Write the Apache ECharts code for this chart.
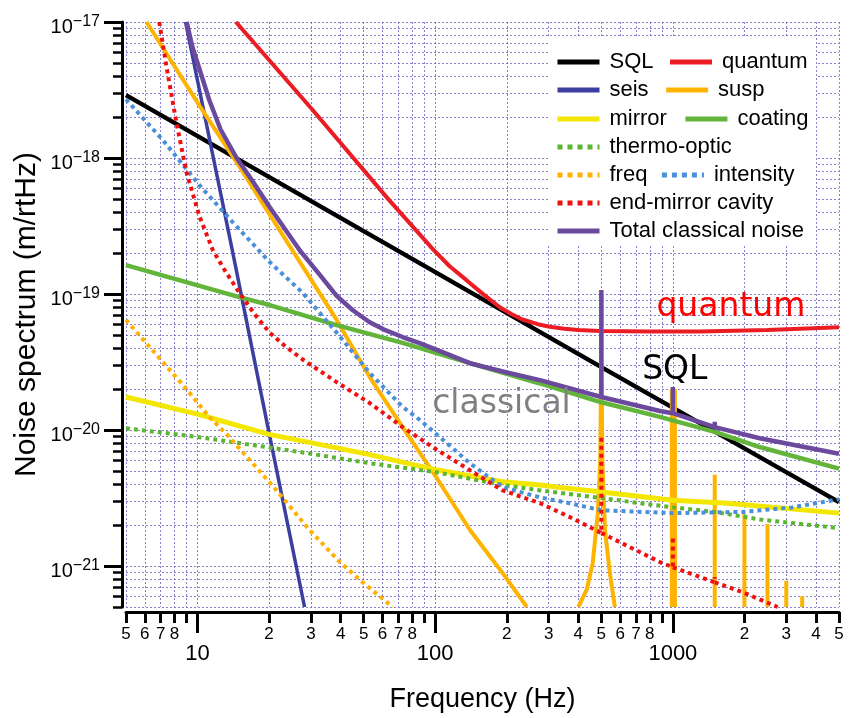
<!DOCTYPE html>
<html><head><meta charset="utf-8">
<script src="https://cdn.jsdelivr.net/npm/echarts@6/dist/echarts.min.js"></script>
<style>html,body{margin:0;padding:0;background:#fff}#c{width:849px;height:718px}</style>
</head><body><div id="c"></div>
<script>
// ---- axis tick values ----
const xTickValues = [5,6,7,8,9,10,20,30,40,50,60,70,80,90,100,200,300,400,500,600,700,800,900,1000,2000,3000,4000,5000];
const xMinorLabelValues = [5,6,7,8,20,30,40,50,60,70,80,200,300,400,500,600,700,800,2000,3000,4000,5000];
const xMajorValues = [10,100,1000];
const yTickValues = [5e-22,6e-22,7e-22,8e-22,9e-22,
  1e-21,2e-21,3e-21,4e-21,5e-21,6e-21,7e-21,8e-21,9e-21,
  1e-20,2e-20,3e-20,4e-20,5e-20,6e-20,7e-20,8e-20,9e-20,
  1e-19,2e-19,3e-19,4e-19,5e-19,6e-19,7e-19,8e-19,9e-19,
  1e-18,2e-18,3e-18,4e-18,5e-18,6e-18,7e-18,8e-18,9e-18,1e-17];
const yMajorValues = [1e-21,1e-20,1e-19,1e-18,1e-17];

// ---- series data: [frequency Hz, noise m/rtHz]; null = gap ----
const sqlData = [[5,2.9e-18],[50,2.9e-19],[500,2.9e-20],[5000,2.95e-21]];
const quantumData = [[14.5,1e-17],[30,2.33e-18],[64,4.9e-19],[97.5,2.15e-19],[115,1.6e-19],[135,1.27e-19],[160,9.9e-20],[187,8.0e-20],[210,7.1e-20],[233,6.5e-20],[270,6.0e-20],[303,5.75e-20],[350,5.55e-20],[400,5.45e-20],[493,5.35e-20],[800,5.3e-20],[1300,5.3e-20],[2500,5.43e-20],[5000,5.7e-20]];
const seisData = [[8.9,1e-17],[14,2.1e-19],[20,9.5e-21],[28.2,5e-22]];
const suspData = [[6.1,1e-17],[10.2,2.42e-18],[14.6,9.3e-19],[20.1,3.85e-19],[38.5,6.45e-20],[53,2.45e-20],[72.9,1.05e-20],[101,4.5e-21],[140,1.84e-21],[192,8.9e-22],[243,5e-22],null,
  [400,5e-22],[434,6.7e-22],[460,1.05e-21],[483,2.45e-21],[495,6e-21],[499,3e-20],[500,1.0e-19],[501,3e-20],[505,6e-21],[518,1.84e-21],[543,8.9e-22],[570,5e-22],null,
  [990,5e-22],[990,2.0e-20],null,[1020,5e-22],[1020,2.0e-20],null,
  [1500,5e-22],[1500,4.7e-21],null,[2000,5e-22],[2000,2.4e-21],null,
  [2500,5e-22],[2500,2.04e-21],null,[3000,5e-22],[3000,7.8e-22],null,[3500,5e-22],[3500,6.0e-22]];
const mirrorData = [[5,1.75e-20],[10,1.31e-20],[20,9.3e-21],[38.5,7.4e-21],[53,6.6e-21],[101,5.1e-21],[192,4.17e-21],[276,3.95e-21],[367,3.72e-21],[500,3.5e-21],[1000,3.05e-21],[1700,2.9e-21],[5000,2.45e-21]];
const coatingData = [[5,1.63e-19],[15,9.5e-20],[20.1,8.3e-20],[38.5,5.9e-20],[72.9,4.37e-20],[140,3.1e-20],[276,2.2e-20],[500,1.6e-20],[882,1.25e-20],[1500,9.7e-21],[2320,7.5e-21],[5000,5.2e-21]];
const thermoOpticData = [[5,1.03e-20],[10,8.9e-21],[26.9,6.9e-21],[53,5.7e-21],[101,4.9e-21],[192,3.95e-21],[276,3.6e-21],[500,3.16e-21],[1000,2.7e-21],[1500,2.5e-21],[2320,2.2e-21],[5000,1.9e-21]];
const freqData = [[5,6.45e-20],[8.57,2.2e-20],[11.2,1.25e-20],[13.6,8.9e-21],[21.5,3.6e-21],[29.6,1.84e-21],[39.7,1.07e-21],[49.5,7.6e-22],[66.2,5e-22]];
const intensityData = [[5,2.7e-18],[7.13,1.36e-18],[10.2,6.3e-19],[14,3.4e-19],[20.1,1.72e-19],[27.7,1.02e-19],[38.5,5.2e-20],[53,2.63e-20],[72.9,1.48e-20],[86,1.19e-20],[112,8.0e-21],[140,5.7e-21],[192,3.8e-21],[276,3.2e-21],[367,2.9e-21],[500,2.57e-21],[1000,2.45e-21],[1975,2.5e-21],[3170,2.7e-21],[5000,3.1e-21]];
const endMirrorData = [[6.9,1e-17],[7.4,4.7e-18],[8.16,1.8e-18],[8.99,7.8e-19],[10.2,3.7e-19],[11.6,2.1e-19],[13,1.5e-19],[15,1.02e-19],[17.5,7.0e-20],[20.1,5.2e-20],[23.5,4.1e-20],[27.7,3.3e-20],[38.5,2.25e-20],[53,1.58e-20],[72.9,1.05e-20],[101,7.2e-21],[192,3.6e-21],[276,2.9e-21],[367,2.3e-21],[500,1.75e-21],[500,8.9e-21],null,
  [500,1.75e-21],[705,1.3e-21],[882,1.07e-21],[1000,9.8e-22],[1000,1.7e-21],null,
  [1000,9.8e-22],[1500,7.6e-22],[1500,8.3e-22],null,[1500,7.6e-22],[1975,6.4e-22],[2760,5e-22]];
const totalData = [[9.0,1e-17],[9.5,6.6e-18],[10,5e-18],[11.2,2.67e-18],[12.5,1.62e-18],[14.6,1e-18],[17,6.8e-19],[20.1,4.36e-19],[26.9,2.1e-19],[32,1.45e-19],[38.5,9.7e-20],[45,7.6e-20],[53,6.2e-20],[62,5.4e-20],[72.9,4.83e-20],[86,4.35e-20],[101,3.9e-20],[140,3.1e-20],[200,2.65e-20],[276,2.33e-20],[500,1.75e-20],[500,1.07e-19],[500,1.75e-20],
  [882,1.38e-20],[1000,1.33e-20],[1000,2.07e-20],[1000,1.33e-20],[1500,1.05e-20],[1500,1.15e-20],[1500,1.05e-20],[2320,8.7e-21],[5000,6.7e-21]];

const gridColor = 'rgba(95,85,185,0.75)';
const FONT = 'Liberation Sans';
const gap = d => d.map(p => p === null ? ['-','-'] : p);

function lineSeries(name, data, color, width, type, extra) {
  return Object.assign({
    name, type: 'line', data: gap(data), symbol: 'none', showSymbol: false,
    connectNulls: false, silent: true, clip: true,
    lineStyle: { color, width, type: type || 'solid', cap: 'butt' },
    itemStyle: { color }
  }, extra || {});
}
function note(text, coord, color) {
  return { symbol: 'circle', symbolSize: 1, silent: true, itemStyle: { color: 'rgba(0,0,0,0)' },
    label: { show: true, position: 'inside', formatter: text, color, fontSize: 33, fontFamily: 'DejaVu Sans' },
    data: [{ coord }] };
}
const legendRows = [
  { names: ['SQL','quantum'], y: 62, gap: 14 },
  { names: ['seis','susp'], y: 90, gap: 15 },
  { names: ['mirror','coating'], y: 119, gap: 16 },
  { names: ['thermo-optic'], y: 147, gap: 10 },
  { names: ['freq','intensity'], y: 175, gap: 12 },
  { names: ['end-mirror cavity'], y: 203, gap: 10 },
  { names: ['Total classical noise'], y: 231, gap: 10 }
];

const option = {
  animation: false,
  backgroundColor: '#fff',
  grid: { left: 126, right: 10, top: 22, bottom: 111, outerBoundsMode: 'none' },
  graphic: [{ type: 'rect', left: 548, top: 38, z: 1, silent: true,
    shape: { width: 268, height: 206 }, style: { fill: '#fff' } }],
  legend: legendRows.map(r => ({
    data: r.names, left: 555, top: r.y - 11, padding: 0, itemGap: r.gap,
    itemWidth: 42, itemHeight: 22, selectedMode: false, orient: 'horizontal',
    itemStyle: { opacity: 0 },
    lineStyle: { width: 5 },
    textStyle: { fontSize: 22, fontFamily: FONT, color: '#000', padding: [0,0,0,5] }
  })),
  xAxis: [
    { type: 'log', logBase: 10, min: 5, max: 5000, position: 'bottom', offset: 5,
      name: 'Frequency (Hz)', nameLocation: 'middle', nameGap: 74,
      nameTextStyle: { fontSize: 27, fontFamily: FONT, color: '#000' },
      axisLine: { show: true, lineStyle: { color: '#000', width: 3 } },
      axisTick: { show: true, customValues: xTickValues, length: 11, lineStyle: { color: '#000', width: 3 } },
      axisLabel: { show: true, customValues: xMinorLabelValues, fontSize: 17, margin: 14, color: '#000', fontFamily: FONT,
        formatter: v => String(Math.round(v / Math.pow(10, Math.floor(Math.log10(v) + 1e-9)))) },
      splitLine: { show: true, lineStyle: { color: gridColor, width: 1, type: [2,2] } },
      minorTick: { show: false }, minorSplitLine: { show: false } },
    { type: 'log', logBase: 10, min: 5, max: 5000, position: 'bottom', offset: 5,
      axisLine: { show: false },
      axisTick: { show: true, customValues: xMajorValues, length: 21, lineStyle: { color: '#000', width: 3 } },
      axisLabel: { show: true, customValues: xMajorValues, fontSize: 22, margin: 31, color: '#000', fontFamily: FONT,
        formatter: v => String(Math.round(v)) },
      splitLine: { show: false } }
  ],
  yAxis: [
    { type: 'log', logBase: 10, min: 5e-22, max: 1e-17, position: 'left', offset: 4,
      name: 'Noise spectrum (m/rtHz)', nameLocation: 'middle', nameGap: 80,
      nameTextStyle: { fontSize: 30, fontFamily: FONT, color: '#000' },
      axisLine: { show: true, lineStyle: { color: '#000', width: 3 } },
      axisTick: { show: true, customValues: yTickValues, length: 9, lineStyle: { color: '#000', width: 2.5 } },
      axisLabel: { show: false },
      splitLine: { show: true, lineStyle: { color: gridColor, width: 1, type: [2,2] } },
      minorTick: { show: false }, minorSplitLine: { show: false } },
    { type: 'log', logBase: 10, min: 5e-22, max: 1e-17, position: 'left', offset: 4,
      axisLine: { show: false },
      axisTick: { show: true, customValues: yMajorValues, length: 18, lineStyle: { color: '#000', width: 3 } },
      axisLabel: { show: true, customValues: yMajorValues, margin: 22, padding: [7,0,0,0], color: '#000',
        formatter: v => { const e = Math.round(Math.log10(v)); return '{a|10}{b|' + (e < 0 ? '\u2212' : '') + Math.abs(e) + '}'; },
        rich: { a: { fontSize: 20, lineHeight: 24, verticalAlign: 'bottom', fontFamily: FONT, color: '#000' },
                b: { fontSize: 16, lineHeight: 12, verticalAlign: 'top', fontFamily: FONT, color: '#000' } } },
      splitLine: { show: false } }
  ],
  series: [
    lineSeries('SQL', sqlData, '#000000', 4.5, 'solid', { markPoint: note('SQL', [1019, 2.75e-20], '#000') }),
    lineSeries('quantum', quantumData, '#ec1c24', 4, 'solid', { markPoint: note('quantum', [1754, 8.0e-20], '#ff0000') }),
    lineSeries('seis', seisData, '#3b3f9f', 3.5),
    lineSeries('susp', suspData, '#fdb300', 4),
    lineSeries('mirror', mirrorData, '#f3e600', 5),
    lineSeries('coating', coatingData, '#62b43a', 4.5),
    lineSeries('thermo-optic', thermoOpticData, '#5cb531', 4, 'dotted'),
    lineSeries('freq', freqData, '#ffb000', 4, 'dotted'),
    lineSeries('intensity', intensityData, '#4a90d9', 4, 'dotted'),
    lineSeries('end-mirror cavity', endMirrorData, '#ee1111', 4, 'dotted'),
    lineSeries('Total classical noise', totalData, '#6b4a9e', 4.5, 'solid', { markPoint: note('classical', [190, 1.53e-20], '#808080') })
  ]
};
const chart = echarts.init(document.getElementById('c'), null, { renderer: 'canvas' });
chart.setOption(option);
</script></body></html>
